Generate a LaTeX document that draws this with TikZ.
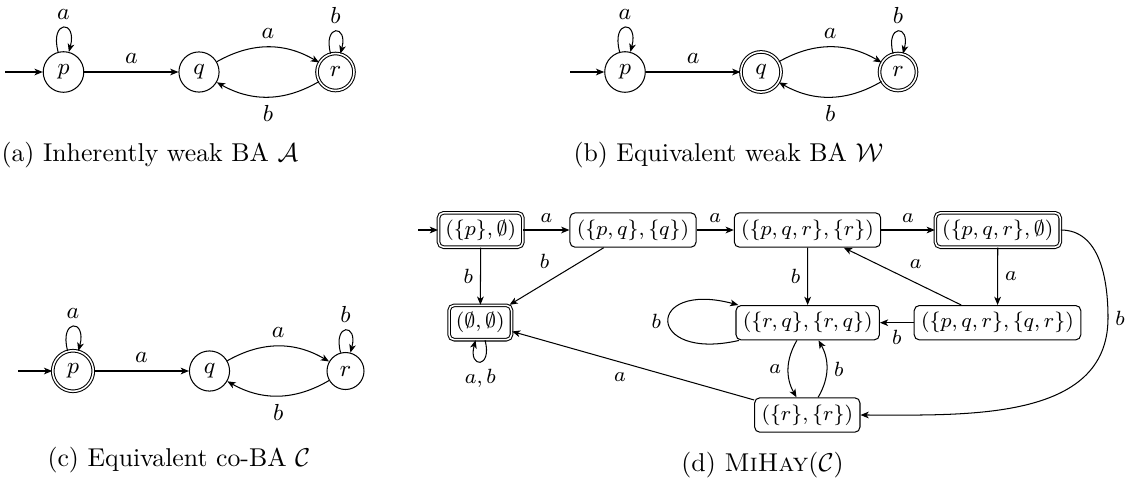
\documentclass[tikz,border=0pt]{standalone}
\usetikzlibrary{arrows.meta}
\begin{document}
\begin{tikzpicture}[x=0.388pt,y=-0.388pt,
  >={Stealth[length=3.2pt,width=2.6pt,inset=0.9pt]},
  st/.style={circle,draw,font=\small,inner sep=3pt},
  acc/.style={double},
  box/.style={draw,rounded corners=2pt,font=\footnotesize,inner sep=2.67pt},
  lb/.style={font=\small,inner sep=3pt},
  ld/.style={font=\footnotesize,inner sep=2.67pt},
  lp/.style={looseness=8,min distance=0pt},
  captxt/.style={inner sep=0pt}]
\useasboundingbox (0,0) rectangle (1136,482);

% (a)
\node[st] (pA) at (63.5,72) {$p$};
\node[st] (qA) at (199,72) {$q$};
\node[st,acc] (rA) at (335.5,72) {$r$};
\coordinate (iA) at (5,72);
\draw[->] (iA) -- (pA);
\draw[->] (pA) to[loop above,lp] node[lb,above] {$a$} (pA);
\draw[->] (pA) -- node[lb,above] {$a$} (qA);
\draw[->] (qA) to[bend left=30] node[lb,above] {$a$} (rA);
\draw[->] (rA) to[bend left=30] node[lb,below] {$b$} (qA);
\draw[->] (rA) to[loop above,lp] node[lb,above] {$b$} (rA);

% (b)
\node[st] (pB) at (625,72) {$p$};
\node[st,acc] (qB) at (761,72) {$q$};
\node[st,acc] (rB) at (898,72) {$r$};
\coordinate (iB) at (570,72);
\draw[->] (iB) -- (pB);
\draw[->] (pB) to[loop above,lp] node[lb,above] {$a$} (pB);
\draw[->] (pB) -- node[lb,above] {$a$} (qB);
\draw[->] (qB) to[bend left=30] node[lb,above] {$a$} (rB);
\draw[->] (rB) to[bend left=30] node[lb,below] {$b$} (qB);
\draw[->] (rB) to[loop above,lp] node[lb,above] {$b$} (rB);

% (c)
\node[st,acc] (pC) at (73,371) {$p$};
\node[st] (qC) at (209.5,371) {$q$};
\node[st] (rC) at (345.5,371) {$r$};
\coordinate (iC) at (18,371);
\draw[->] (iC) -- (pC);
\draw[->] (pC) to[loop above,lp] node[lb,above] {$a$} (pC);
\draw[->] (pC) -- node[lb,above] {$a$} (qC);
\draw[->] (qC) to[bend left=30] node[lb,above] {$a$} (rC);
\draw[->] (rC) to[bend left=30] node[lb,below] {$b$} (qC);
\draw[->] (rC) to[loop above,lp] node[lb,above] {$b$} (rC);

% (d)
\node[box,acc] (d1) at (480.7,230) {$(\{p\},\emptyset)$};
\node[box] (d2) at (633,230) {$(\{p,q\},\{q\})$};
\node[box] (d3) at (807.5,230) {$(\{p,q,r\},\{r\})$};
\node[box,acc] (d4) at (997.8,230) {$(\{p,q,r\},\emptyset)$};
\node[box,acc] (d5) at (480.3,322.5) {$(\emptyset,\emptyset)$};
\node[box] (d6) at (807.7,322.7) {$(\{r,q\},\{r,q\})$};
\node[box] (d7) at (997.5,322.7) {$(\{p,q,r\},\{q,r\})$};
\node[box] (d8) at (807.3,415) {$(\{r\},\{r\})$};
\coordinate (d0) at (418,230);
\coordinate (dv) at (1108,318);

\draw[->] (d0) -- (d1);
\draw[->] (d1) -- node[ld,above] {$a$} (d2);
\draw[->] (d2) -- node[ld,above] {$a$} (d3);
\draw[->] (d3) -- node[ld,above] {$a$} (d4);
\draw[->] (d1) -- node[ld,left] {$b$} (d5);
\draw[->] (d2) -- node[ld,auto,swap] {$b$} (d5);
\draw[->] (d3) -- node[ld,left] {$b$} (d6);
\draw[->] (d4) -- node[ld,right] {$a$} (d7);
\draw[->] (d7) -- node[ld,auto,swap] {$a$} (d3);
\draw[->] (d7) -- node[ld,below] {$b$} (d6);
\draw[->] (d8) -- node[ld,auto] {$a$} (d5);
\draw[->] ([xshift=-4.2pt]d6.south) to[bend right=30] node[ld,left] {$a$} ([xshift=-4.2pt]d8.north);
\draw[->] ([xshift=4.2pt]d8.north) to[bend right=30] node[ld,right] {$b$} ([xshift=4.2pt]d6.south);
\draw[->] ([xshift=1.4pt]d6.south west) .. controls (645,362) and (645,280) .. node[ld,left] {$b$} ([xshift=1.1pt]d6.north west);
\draw[->] (d5) to[loop below,lp] node[ld,below] {$a,b$} (d5);
\draw[->] (d4.east) to[out=0,in=90] (dv) node[ld,right] {$b$} to[out=270,in=0] (d8.east);

% captions
\node[captxt,anchor=base west] (ca) at (1,161) {(a) Inherently weak BA $\mathcal{A}$};
\node[captxt,anchor=base west] (cb) at (573,161) {(b) Equivalent weak BA $\mathcal{W}$};
\node[captxt,anchor=base west] (cc) at (47,466) {(c) Equivalent co-BA $\mathcal{C}$};
\node[captxt,anchor=base] (cd) at (762.5,471) {(d) \textsc{MiHay}($\mathcal{C}$)};
\end{tikzpicture}
\end{document}
